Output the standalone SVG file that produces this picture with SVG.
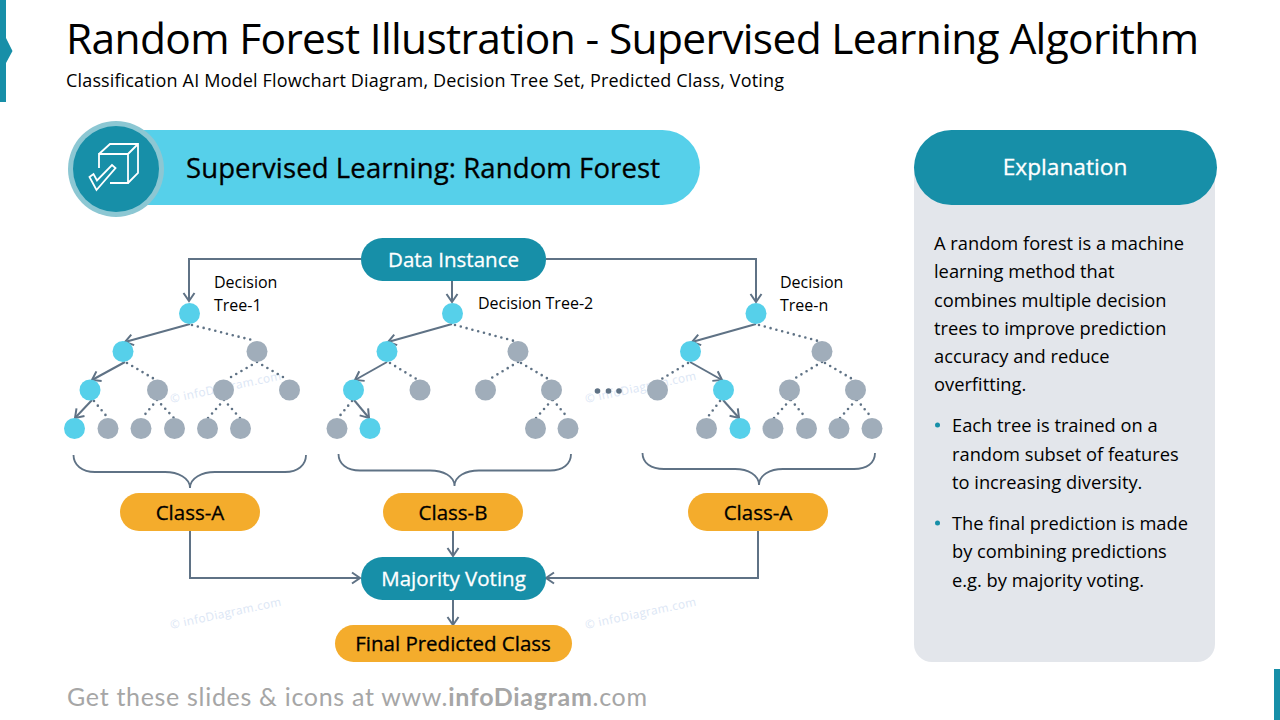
<svg xmlns="http://www.w3.org/2000/svg" width="1280" height="720" viewBox="0 0 1280 720">
<style>
text{font-family:"Open Sans","Noto Sans","Liberation Sans",sans-serif;fill:#000}
.c{text-anchor:middle}
.lbl{font-size:16px}
.pill{font-size:20.5px;stroke:#000;stroke-width:.3px}
.w{fill:#fff;stroke:#fff;stroke-width:.3px}
.body{font-size:18.3px}
.teal{fill:#178fa8}
.amber{fill:#f4ac2c}
.on{fill:#56d0ea}
.off{fill:#a0adba}
.wm{font-size:11.7px;fill:#dbe6f5;letter-spacing:.4px}
.conn{fill:none;stroke:#5f7285;stroke-width:2}
.arr{marker-end:url(#a)}
.dot{fill:none;stroke:#5f7285;stroke-width:2.6;stroke-linecap:round;stroke-dasharray:0 6}
.brace{fill:none;stroke:#5f7285;stroke-width:1.8}
.ico{fill:none;stroke:#fff;stroke-width:1.8}
</style>
<defs>
<marker id="a" markerUnits="userSpaceOnUse" markerWidth="16" markerHeight="16" refX="13" refY="8" orient="auto">
<path d="M5 2.5L13 8L5 13.5" fill="none" stroke="#5f7285" stroke-width="2"/>
</marker>
</defs>

<g id="decor">
<path class="teal" d="M0 0H6V38L12.5 51L6 63V102H0Z"/>
<rect class="teal" x="1274" y="669" width="6" height="51"/>
</g>
<text x="66" y="54" font-size="42.5" textLength="1133">Random Forest Illustration - Supervised Learning Algorithm</text>
<text x="66" y="87" font-size="18" textLength="718">Classification AI Model Flowchart Diagram, Decision Tree Set, Predicted Class, Voting</text>

<g id="watermarks">
<text class="wm" transform="translate(171 629) rotate(-12)">© infoDiagram.com</text>
<text class="wm" transform="translate(586 629) rotate(-12)">© infoDiagram.com</text>
<text class="wm" transform="translate(171 403) rotate(-12)">© infoDiagram.com</text>
<text class="wm" transform="translate(586 403) rotate(-12)">© infoDiagram.com</text>
</g>

<g id="banner">
<rect class="on" x="100" y="130" width="600" height="75" rx="37.5"/>
<circle cx="116" cy="169" r="48" fill="#8cc7d3"/>
<circle class="teal" cx="116" cy="169" r="43"/>
<path class="ico" d="M99 168V154H128V183H110M99 154L110 144H138V173L128 183M128 154L138 144"/>
<path class="ico" d="M89.500 177L93.500 174L97 180.500L112 165L115.500 168L96.500 190Z"/>
<text class="pill" x="186" y="178" style="font-size:27.5px" textLength="474">Supervised Learning: Random Forest</text>
</g>

<g id="explanation">
<rect x="914" y="150" width="301" height="512" rx="18" fill="#e3e6eb"/>
<rect class="teal" x="914" y="130" width="303" height="75" rx="37.500"/>
<text class="c w" x="1065" y="175" font-size="22.700">Explanation</text>
<g class="body">
<text x="934" y="250">A random forest is a machine</text>
<text x="934" y="278">learning method that</text>
<text x="934" y="307">combines multiple decision</text>
<text x="934" y="335">trees to improve prediction</text>
<text x="934" y="363">accuracy and reduce</text>
<text x="934" y="391">overfitting.</text>
<text x="952" y="432">Each tree is trained on a</text>
<text x="952" y="461">random subset of features</text>
<text x="952" y="489">to increasing diversity.</text>
<text x="952" y="530">The final prediction is made</text>
<text x="952" y="558">by combining predictions</text>
<text x="952" y="587">e.g. by majority voting.</text>
</g>
<circle class="teal" cx="937.500" cy="425" r="2.500"/>
<circle class="teal" cx="937.500" cy="523" r="2.500"/>
</g>

<g id="connectors">
<path class="conn arr" d="M361 259H189V301"/>
<path class="conn arr" d="M452 281V302"/>
<path class="conn arr" d="M546 259H756V302"/>
<path class="conn arr" d="M190 531V578H360"/>
<path class="conn arr" d="M453 531V556"/>
<path class="conn arr" d="M758 531V578H546"/>
<path class="conn arr" d="M453 600V625"/>
<path class="conn arr" d="M190 324L125 342"/>
<path class="conn arr" d="M125 362L92 380"/>
<path class="conn arr" d="M92 400L75 418"/>
<path class="dot" d="M192 325L256 341M127 363L156 380M94 401L108 418M257 362L226 380M257 362L288 380M157 400L142 418M157 400L174 418M224 400L208 418M224 400L240 418"/>
<path class="conn arr" d="M452 324L388 342"/>
<path class="conn arr" d="M387 362L355 380"/>
<path class="conn arr" d="M354 400L369 418"/>
<path class="dot" d="M455 325L518 342M390 363L418 380M352 401L338 418M518 362L488 380M521 363L550 380M552 400L536 418M553 400L568 418"/>
<path class="conn arr" d="M756 324L692 342"/>
<path class="conn arr" d="M690 362L722 380"/>
<path class="conn arr" d="M723 400L739 418"/>
<path class="dot" d="M759 325L822 342M688 363L660 380M720 401L707 418M822 362L792 380M825 363L854 380M790 400L774 418M791 400L806 418M856 400L840 418M857 400L872 418"/>
<path class="brace" d="M73.500 455C73.500 465 82 472 95 472H165C178 472 190 478 190 488C190 478 202 472 215 472H285C298 472 306 465 306 455"/>
<path class="brace" d="M338.500 454C338.500 464 347 470.500 360 470.500H430C443 470.500 454.500 476 454.500 486C454.500 476 466 470.500 479 470.500H550C563 470.500 571 464 571 454"/>
<path class="brace" d="M642.500 453C642.500 463 651 469 664 469H735C748 469 759 475 759 485C759 475 770 469 783 469H854C867 469 875 463 875 453"/>
</g>

<g id="tree-1">
<circle class="on" cx="189.500" cy="313.500" r="10.500"/>
<circle class="on" cx="123" cy="351.500" r="10.500"/><circle class="off" cx="257" cy="351.500" r="10.500"/>
<circle class="on" cx="90" cy="390" r="10.500"/><circle class="off" cx="157.500" cy="390" r="10.500"/><circle class="off" cx="223.500" cy="390" r="10.500"/><circle class="off" cx="289.500" cy="390" r="10.500"/>
<circle class="on" cx="74.500" cy="428.500" r="10.500"/><circle class="off" cx="108" cy="428.500" r="10.500"/><circle class="off" cx="141" cy="428.500" r="10.500"/><circle class="off" cx="174.500" cy="428.500" r="10.500"/><circle class="off" cx="207.500" cy="428.500" r="10.500"/><circle class="off" cx="240.500" cy="428.500" r="10.500"/>
<text class="lbl" x="214" y="288">Decision</text><text class="lbl" x="214" y="311">Tree-1</text>
</g>
<g id="tree-2">
<circle class="on" cx="452.500" cy="313.500" r="10.500"/>
<circle class="on" cx="387" cy="351.500" r="10.500"/><circle class="off" cx="518" cy="351.500" r="10.500"/>
<circle class="on" cx="353.500" cy="390" r="10.500"/><circle class="off" cx="420" cy="390" r="10.500"/><circle class="off" cx="485.500" cy="390" r="10.500"/><circle class="off" cx="551.500" cy="390" r="10.500"/>
<circle class="off" cx="337" cy="428.500" r="10.500"/><circle class="on" cx="370" cy="428.500" r="10.500"/><circle class="off" cx="535.500" cy="428.500" r="10.500"/><circle class="off" cx="568" cy="428.500" r="10.500"/>
<text class="lbl" x="478" y="309">Decision Tree-2</text>
</g>
<g id="tree-n">
<circle class="on" cx="756" cy="313.500" r="10.500"/>
<circle class="on" cx="690.500" cy="351.500" r="10.500"/><circle class="off" cx="822" cy="351.500" r="10.500"/>
<circle class="off" cx="657.500" cy="390" r="10.500"/><circle class="on" cx="723.500" cy="390" r="10.500"/><circle class="off" cx="789.500" cy="390" r="10.500"/><circle class="off" cx="855.500" cy="390" r="10.500"/>
<circle class="off" cx="706.500" cy="428.500" r="10.500"/><circle class="on" cx="740" cy="428.500" r="10.500"/><circle class="off" cx="773" cy="428.500" r="10.500"/><circle class="off" cx="806.500" cy="428.500" r="10.500"/><circle class="off" cx="839" cy="428.500" r="10.500"/><circle class="off" cx="872" cy="428.500" r="10.500"/>
<text class="lbl" x="780" y="288">Decision</text><text class="lbl" x="780" y="311">Tree-n</text>
</g>
<g id="ellipsis" fill="#5f7285">
<circle cx="597.500" cy="391" r="2.800"/><circle cx="608.500" cy="391" r="2.800"/><circle cx="619" cy="391" r="2.800"/>
</g>

<g id="data-instance"><rect class="teal" x="361" y="238" width="185" height="43" rx="21.500"/><text class="c w pill" x="453.500" y="267">Data Instance</text></g>
<g id="class-a-1"><rect class="amber" x="120" y="493" width="140" height="38" rx="19"/><text class="c pill" x="190" y="520">Class-A</text></g>
<g id="class-b"><rect class="amber" x="383" y="493" width="140" height="38" rx="19"/><text class="c pill" x="453" y="520">Class-B</text></g>
<g id="class-a-2"><rect class="amber" x="688" y="493" width="140" height="38" rx="19"/><text class="c pill" x="758" y="520">Class-A</text></g>
<g id="majority-voting"><rect class="teal" x="361" y="557" width="185" height="43" rx="21.500"/><text class="c w pill" x="453.500" y="586">Majority Voting</text></g>
<g id="final-class"><rect class="amber" x="335" y="625" width="237" height="37" rx="18.500"/><text class="c pill" x="453" y="651">Final Predicted Class</text></g>

<text x="67" y="706" font-size="25" style="font-family:Lato,'Open Sans',sans-serif;fill:#a6a6a6" textLength="580">Get these slides &amp; icons at www.<tspan font-weight="700">infoDiagram</tspan>.com</text>
</svg>
